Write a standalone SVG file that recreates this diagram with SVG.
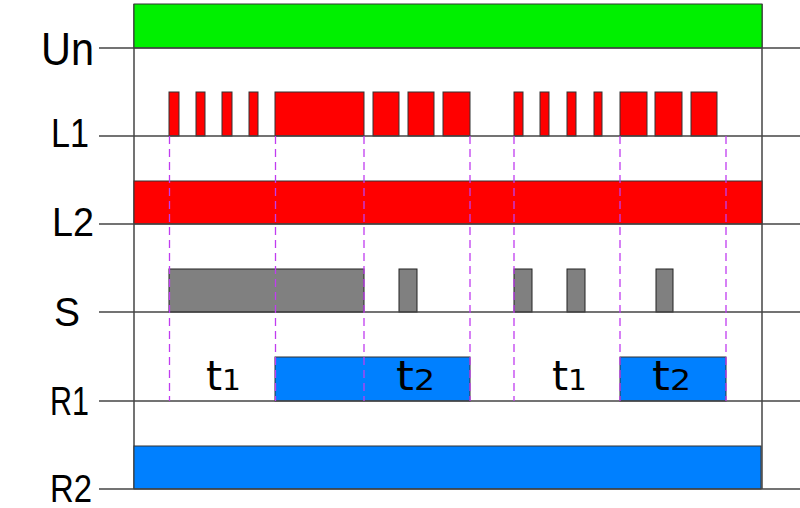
<svg xmlns="http://www.w3.org/2000/svg" width="800" height="508" viewBox="0 0 800 508">
<style>
.axis{stroke:#444;stroke-width:1.5;fill:none}
.red{fill:#ff0000;stroke:#333;stroke-width:1}
.grn{fill:#00f000;stroke:#333;stroke-width:1}
.gry{fill:#808080;stroke:#222;stroke-width:1}
.blu{fill:#0080ff;stroke:#333;stroke-width:1}
.dash{stroke:#c03cf0;stroke-width:1.3;stroke-dasharray:8,5;fill:none}
.lbl{font-family:"Liberation Sans",Arial,sans-serif;fill:#000}
.tt{font-family:"DejaVu Sans",sans-serif;fill:#000}
</style>
<rect width="800" height="508" fill="#fff"/>
<g id="axes">
<line class="axis" x1="134" y1="4" x2="134" y2="489"/>
<line class="axis" x1="762" y1="4" x2="762" y2="489"/>
</g>
<g id="Un">
<rect class="grn" x="134" y="4" width="628" height="44"/>
<line class="axis" x1="99" y1="48" x2="800" y2="48"/>
<text class="lbl" x="41" y="65" font-size="46" textLength="53" lengthAdjust="spacingAndGlyphs">Un</text>
</g>
<g id="L1">
<rect class="red" x="169" y="92" width="10" height="44"/>
<rect class="red" x="196" y="92" width="9" height="44"/>
<rect class="red" x="222" y="92" width="10" height="44"/>
<rect class="red" x="249" y="92" width="9" height="44"/>
<rect class="red" x="275" y="92" width="89" height="44"/>
<rect class="red" x="373" y="92" width="26" height="44"/>
<rect class="red" x="408" y="92" width="26" height="44"/>
<rect class="red" x="443" y="92" width="27" height="44"/>
<rect class="red" x="514" y="92" width="9" height="44"/>
<rect class="red" x="540" y="92" width="9" height="44"/>
<rect class="red" x="567" y="92" width="9" height="44"/>
<rect class="red" x="594" y="92" width="8" height="44"/>
<rect class="red" x="620" y="92" width="27" height="44"/>
<rect class="red" x="655" y="92" width="27" height="44"/>
<rect class="red" x="691" y="92" width="26" height="44"/>
<line class="axis" x1="99" y1="136" x2="800" y2="136"/>
<text class="lbl" x="51" y="147" font-size="40" textLength="38" lengthAdjust="spacingAndGlyphs">L1</text>
</g>
<g id="L2">
<rect class="red" x="134" y="181" width="628" height="43"/>
<line class="axis" x1="99" y1="224" x2="800" y2="224"/>
<text class="lbl" x="52" y="236" font-size="40" textLength="42" lengthAdjust="spacingAndGlyphs">L2</text>
</g>
<g id="S">
<rect class="gry" x="169" y="269" width="195" height="43"/>
<rect class="gry" x="399" y="269" width="18" height="43"/>
<rect class="gry" x="514" y="269" width="18" height="43"/>
<rect class="gry" x="567" y="269" width="18" height="43"/>
<rect class="gry" x="656" y="269" width="17" height="43"/>
<line class="axis" x1="99" y1="312" x2="800" y2="312"/>
<text class="lbl" x="54" y="326" font-size="40" textLength="26" lengthAdjust="spacingAndGlyphs">S</text>
</g>
<g id="R1">
<rect class="blu" x="275" y="357" width="195" height="44"/>
<rect class="blu" x="620" y="357" width="106" height="44"/>
<line class="axis" x1="99" y1="401" x2="800" y2="401"/>
<text class="lbl" x="50" y="415" font-size="40" textLength="39" lengthAdjust="spacingAndGlyphs">R1</text>
<text class="tt" x="206" y="390" textLength="35" lengthAdjust="spacingAndGlyphs"><tspan font-size="40">t</tspan><tspan font-size="29">1</tspan></text>
<text class="tt" x="396" y="390" textLength="39" lengthAdjust="spacingAndGlyphs"><tspan font-size="40">t</tspan><tspan font-size="29">2</tspan></text>
<text class="tt" x="552" y="390" textLength="35" lengthAdjust="spacingAndGlyphs"><tspan font-size="40">t</tspan><tspan font-size="29">1</tspan></text>
<text class="tt" x="652" y="390" textLength="39" lengthAdjust="spacingAndGlyphs"><tspan font-size="40">t</tspan><tspan font-size="29">2</tspan></text>
</g>
<g id="R2">
<rect class="blu" x="134" y="446" width="627" height="43"/>
<line class="axis" x1="99" y1="489" x2="800" y2="489"/>
<text class="lbl" x="50" y="502" font-size="39" textLength="42" lengthAdjust="spacingAndGlyphs">R2</text>
</g>
<g id="connectors">
<line class="dash" x1="169.5" y1="136" x2="169.5" y2="401"/>
<line class="dash" x1="275.5" y1="136" x2="275.5" y2="401"/>
<line class="dash" x1="364" y1="136" x2="364" y2="401"/>
<line class="dash" x1="470" y1="136" x2="470" y2="401"/>
<line class="dash" x1="514" y1="136" x2="514" y2="401"/>
<line class="dash" x1="620" y1="136" x2="620" y2="401"/>
<line class="dash" x1="726" y1="136" x2="726" y2="401"/>
</g>
</svg>
